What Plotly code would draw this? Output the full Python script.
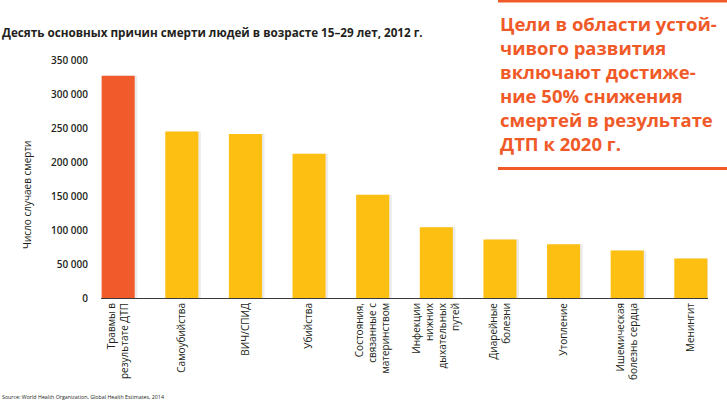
import plotly.graph_objects as go

categories = [
    "Травмы в<br>результате ДТП",
    "Самоубийства",
    "ВИЧ/СПИД",
    "Убийства",
    "Состояния,<br>связанные с<br>материнством",
    "Инфекции<br>нижних<br>дыхательных<br>путей",
    "Диарейные<br>болезни",
    "Утопление",
    "Ишемическая<br>болезнь сердца",
    "Менингит",
]
deaths = [327000, 245000, 241000, 212000, 152000, 104000, 86000, 79000, 70000, 58000]
bar_colors = ["#F15A2B"] + ["#FDBF12"] * 9
y_ticks = [0, 50000, 100000, 150000, 200000, 250000, 300000, 350000]
y_tick_labels = ["0", "50 000", "100 000", "150 000", "200 000", "250 000", "300 000", "350 000"]

W, H = 727, 406
L, R, T, B = 101, 19, 60, 108
PW, PH = W - L - R, H - T - B


def px_x(x):
    return (x - L) / PW


def px_y(y):
    return 1 - (y - T) / PH


FONT = "Open Sans, Noto Sans, sans-serif"
DARK = "#231F20"
ORANGE = "#F05A28"

fig = go.Figure()
# soft shadow
fig.add_trace(go.Bar(
    x=list(range(len(categories))), y=deaths,
    width=0.52, offset=-0.22,
    marker=dict(color="rgba(0,0,0,0.08)", line=dict(width=0)),
    hoverinfo="skip", showlegend=False,
))
fig.add_trace(go.Bar(
    x=list(range(len(categories))), y=deaths,
    width=0.52, offset=-0.26,
    marker=dict(color=bar_colors, line=dict(width=0)),
    showlegend=False,
))

fig.update_layout(
    width=W, height=H,
    margin=dict(l=L, r=R, t=T, b=B),
    paper_bgcolor="white", plot_bgcolor="white",
    barmode="overlay",
    font=dict(family=FONT, color=DARK, size=10),
    xaxis=dict(
        range=[-0.27, 9.27],
        tickmode="array",
        tickvals=list(range(len(categories))),
        ticktext=categories,
        tickangle=-90,
        showgrid=False, zeroline=False,
        showline=True, linecolor="#3a3a3a", linewidth=1,
        ticks="", tickfont=dict(size=10, color=DARK),
        fixedrange=True,
    ),
    yaxis=dict(
        range=[0, 350000],
        tickmode="array",
        tickvals=y_ticks,
        ticktext=y_tick_labels,
        showgrid=False, zeroline=False, showline=False,
        ticks="", ticklabelstandoff=12,
        tickfont=dict(size=10, color=DARK, weight=600),
        fixedrange=True,
    ),
)

annotations = [
    dict(text="<b>Десять основных причин смерти людей в возрасте 15–29 лет, 2012 г.</b>",
         x=px_x(0), y=px_y(32), xref="paper", yref="paper",
         xanchor="left", yanchor="middle", showarrow=False,
         font=dict(size=11.7, color=DARK, family=FONT)),
    dict(text="Число случаев смерти",
         x=px_x(27), y=px_y(195), xref="paper", yref="paper",
         xanchor="center", yanchor="middle", showarrow=False, textangle=-90,
         font=dict(size=10, color=DARK, family=FONT)),
    dict(text="Source: World Health Organization, Global Health Estimates, 2014",
         x=px_x(0), y=px_y(397), xref="paper", yref="paper",
         xanchor="left", yanchor="middle", showarrow=False,
         font=dict(size=5.3, color=DARK, family=FONT)),
    dict(text="Цели в области устой-<br>чивого развития<br>включают достиже-<br>ние 50% снижения<br>смертей в результате<br>ДТП к 2020 г.",
         x=px_x(498), y=px_y(9), xref="paper", yref="paper",
         xanchor="left", yanchor="top", align="left", showarrow=False,
         font=dict(size=18.5, color=ORANGE, family=FONT, weight=700)),
]
fig.update_layout(annotations=annotations)

fig.update_layout(shapes=[
    dict(type="line", xref="paper", yref="paper",
         x0=px_x(498), x1=px_x(727), y0=px_y(1), y1=px_y(1),
         line=dict(color=ORANGE, width=3)),
    dict(type="line", xref="paper", yref="paper",
         x0=px_x(498), x1=px_x(727), y0=px_y(168.5), y1=px_y(168.5),
         line=dict(color=ORANGE, width=3)),
])

fig.write_html("out.html", config={"displayModeBar": False})
